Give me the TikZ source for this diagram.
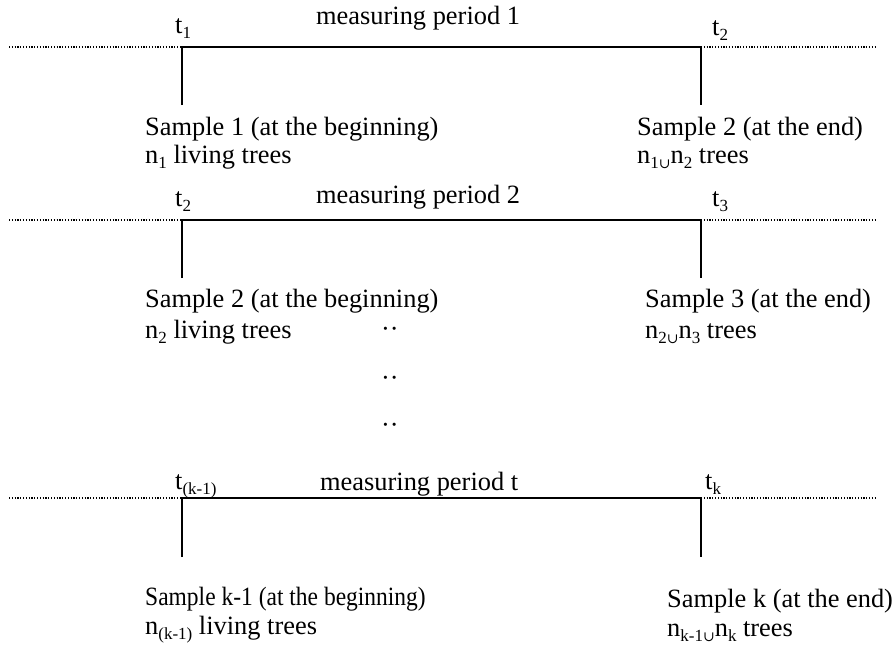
\documentclass[tikz,border=0pt]{standalone}
\usepackage{fontspec}
\usepackage{graphicx}
\setmainfont{Liberation Serif}
\newfontfamily\symfont{DejaVu Serif}
% lowered, reduced index text
\newcommand\lowidx[1]{\raisebox{-0.2em}{\fontsize{17}{18}\selectfont #1}}
\newcommand\unionsym{{\symfont\fontsize{14}{14}\selectfont ∪}}

\begin{document}
\begin{tikzpicture}[x=1pt,y=-1pt,
  every node/.style={inner sep=0pt, anchor=base west,
    font=\fontsize{26.4}{30}\selectfont},
  periodline/.style={line width=2pt},
  extline/.style={line width=1.1pt, dash pattern=on 1.1pt off 1.7pt, black}]
\useasboundingbox (0,0) rectangle (896,645);

% ---- measuring period 1 ----
\coordinate (l1) at (9,47);
\coordinate (a1) at (182,47);
\coordinate (b1) at (701,47);
\coordinate (r1) at (875,47);
\coordinate (a1d) at (182,105);
\coordinate (b1d) at (701,105);
\draw[extline] (l1) -- (a1);
\draw[extline] (b1) -- (r1);
\draw[periodline] (a1d) -- (a1) -- (b1) -- (b1d);
\node (t1) at (175,33) {t\lowidx{1}};
\node (p1) at (316,24) {measuring period 1};
\node (t2a) at (712,35) {t\lowidx{2}};
\node (s1) at (145,135) {Sample 1 (at the beginning)};
\node (n1) at (145,163) {n\lowidx{1} living trees};
\node (s2a) at (637,135) {Sample 2 (at the end)};
\node (n12) at (637,163) {n\lowidx{1\unionsym}n\lowidx{2} trees};

% ---- measuring period 2 ----
\coordinate (l2) at (9,220);
\coordinate (a2) at (182,220);
\coordinate (b2) at (701,220);
\coordinate (r2) at (875,220);
\coordinate (a2d) at (182,278);
\coordinate (b2d) at (701,278);
\draw[extline] (l2) -- (a2);
\draw[extline] (b2) -- (r2);
\draw[periodline] (a2d) -- (a2) -- (b2) -- (b2d);
\node (t2b) at (175,206) {t\lowidx{2}};
\node (p2) at (316,203) {measuring period 2};
\node (t3) at (712,206) {t\lowidx{3}};
\node (s2b) at (145,307) {Sample 2 (at the beginning)};
\node (n2) at (145,338) {n\lowidx{2} living trees};
\node (s3) at (645,307) {Sample 3 (at the end)};
\node (n23) at (645,338) {n\lowidx{2\unionsym}n\lowidx{3} trees};

% ---- gap marks ----
\node (d1) at (381,337) {··};
\node (d2) at (381,386) {··};
\node (d3) at (381,433) {··};

% ---- measuring period t ----
\coordinate (l3) at (9,498);
\coordinate (a3) at (182,498);
\coordinate (b3) at (701,498);
\coordinate (r3) at (875,498);
\coordinate (a3d) at (182,557);
\coordinate (b3d) at (701,557);
\draw[extline] (l3) -- (a3);
\draw[extline] (b3) -- (r3);
\draw[periodline] (a3d) -- (a3) -- (b3) -- (b3d);
\node (tk1) at (175,489) {t\lowidx{(k-1)}};
\node (p3) at (320,490) {measuring period t};
\node (tk) at (705,489) {t\lowidx{k}};
\node (sk1) at (145,605) {\scalebox{0.89}[1]{Sample k-1 (at the beginning)}};
\node (nk1) at (145,634) {n\lowidx{(k-1)} living trees};
\node (sk) at (667,607) {Sample k (at the end)};
\node (nkk) at (667,636) {n\lowidx{k-1\unionsym}n\lowidx{k} trees};
\end{tikzpicture}
\end{document}
